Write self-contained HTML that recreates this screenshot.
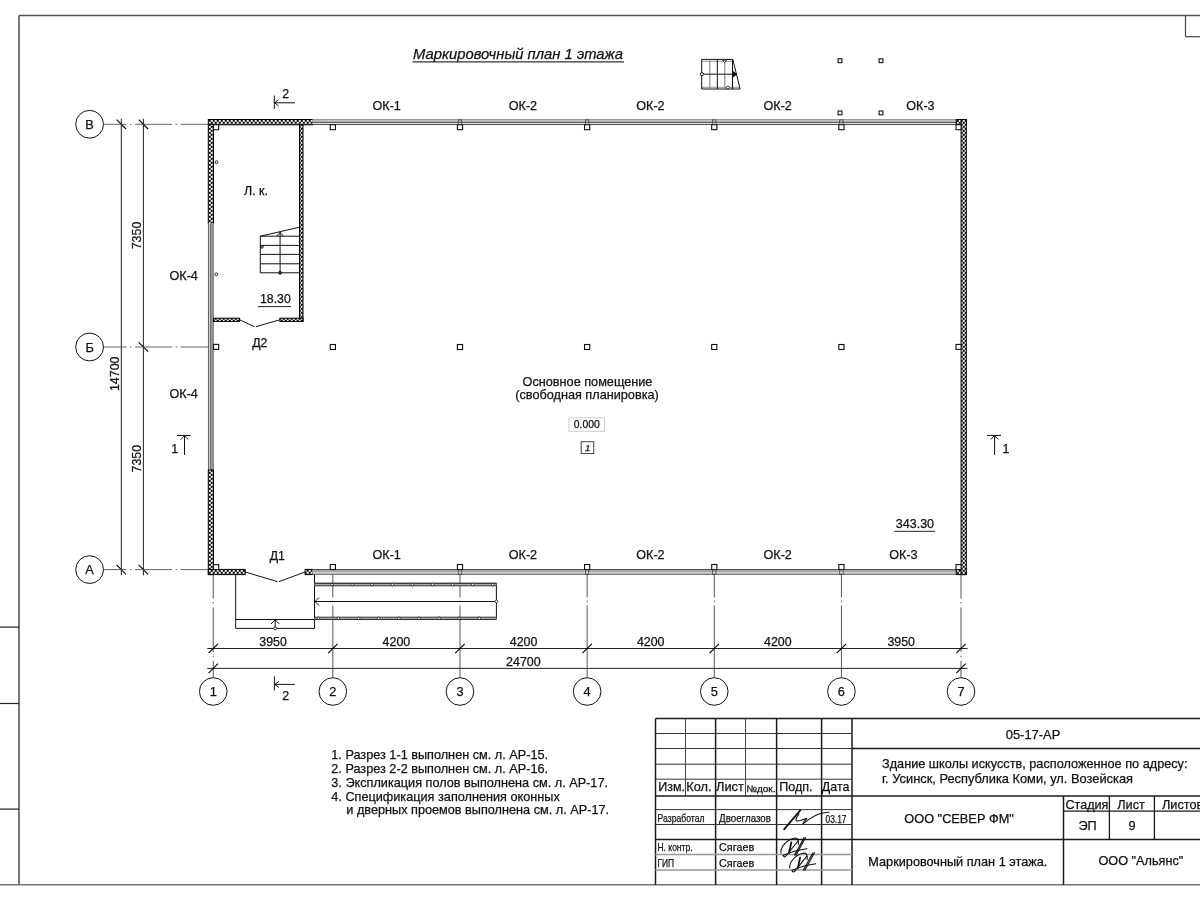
<!DOCTYPE html>
<html><head><meta charset="utf-8"><title>plan</title>
<style>
html,body{margin:0;padding:0;background:#fff;width:1200px;height:900px;overflow:hidden}
svg{display:block;will-change:transform}
text{font-family:"Liberation Sans",sans-serif;fill:#111;stroke:#111;stroke-width:0.25px}
</style></head><body>
<svg width="1200" height="900" viewBox="0 0 1200 900">
<defs>
<pattern id="h" x="0.75" y="3.8" width="4" height="4" patternUnits="userSpaceOnUse">
<rect width="4" height="4" fill="#fff"/>
<rect x="0" y="0" width="2" height="2" fill="#000"/>
<rect x="2" y="2" width="2" height="2" fill="#000"/>
</pattern>
</defs>
<line x1="19" y1="15.5" x2="19" y2="885" stroke="#555" stroke-width="1.6" />
<line x1="19" y1="15.5" x2="1200" y2="15.5" stroke="#555" stroke-width="1.6" />
<line x1="0" y1="884.8" x2="1200" y2="884.8" stroke="#777" stroke-width="1.6" />
<line x1="1185.5" y1="15.5" x2="1185.5" y2="36.7" stroke="#444" stroke-width="1.2" />
<line x1="1185.5" y1="36.7" x2="1200" y2="36.7" stroke="#444" stroke-width="1.2" />
<line x1="0" y1="627.1" x2="19" y2="627.1" stroke="#222" stroke-width="1.2" />
<line x1="0" y1="703.5" x2="19" y2="703.5" stroke="#222" stroke-width="1.2" />
<line x1="0" y1="809.1" x2="19" y2="809.1" stroke="#222" stroke-width="1.2" />
<text x="413" y="58.8" font-size="14.8" text-anchor="start" font-style="italic">Маркировочный план 1 этажа</text>
<line x1="412.5" y1="61.8" x2="624" y2="61.8" stroke="#333" stroke-width="1.2" />
<g fill="none" stroke="#111" stroke-width="1">
<path d="M701.7 61.4 H733.2 M701.7 87.4 H739.6" stroke="#aaa" stroke-width="1.4"/>
<path d="M701.7 59.4 H732.8 L740.1 89 H701.7 Z"/>
<path d="M709.8 59.4 V89" stroke="#777"/>
<path d="M717.35 59.4 V89" stroke="#111"/>
<path d="M724.85 59.4 V89" stroke="#777"/>
<path d="M732.5 59.4 V89" stroke="#111"/>
<path d="M701.7 74.2 H736.5"/>
</g>
<path d="M732.6 71 L737 74.2 L732.6 77.4 Z" fill="#111" stroke="#111" stroke-width="0.6"/>
<circle cx="701.9" cy="74.2" r="1.6" fill="#fff" stroke="#111" stroke-width="1"/>
<path d="M722.6 60.2 L726.6 60.2 L724.6 62.6 Z" fill="#fff" stroke="#111" stroke-width="0.8"/>
<circle cx="727.9" cy="87.6" r="1.4" fill="#fff" stroke="#111" stroke-width="0.8"/>
<rect x="838.10" y="58.80" width="3.80" height="3.80" fill="#fff" stroke="#111" stroke-width="1.1" />
<rect x="879.10" y="58.80" width="3.80" height="3.80" fill="#fff" stroke="#111" stroke-width="1.1" />
<rect x="838.10" y="111.00" width="3.80" height="3.80" fill="#fff" stroke="#111" stroke-width="1.1" />
<rect x="879.10" y="111.00" width="3.80" height="3.80" fill="#fff" stroke="#111" stroke-width="1.1" />
<rect x="208.30" y="119.50" width="104.20" height="5.30" fill="url(#h)" stroke="#000" stroke-width="1"/>
<rect x="312.5" y="119.5" width="643.7" height="5.299999999999997" fill="#fff"/>
<rect x="312.5" y="120.1" width="643.7" height="2.2" fill="#d4d4d4"/>
<line x1="312.5" y1="119.8" x2="956.2" y2="119.8" stroke="#777" stroke-width="1.1" />
<line x1="312.5" y1="122.3" x2="956.2" y2="122.3" stroke="#222" stroke-width="0.9" />
<line x1="312.5" y1="124.39999999999999" x2="956.2" y2="124.39999999999999" stroke="#222" stroke-width="0.9" />
<rect x="956.20" y="119.50" width="10.10" height="5.30" fill="url(#h)" stroke="#000" stroke-width="1"/>
<rect x="208.30" y="124.30" width="5.20" height="99.00" fill="url(#h)" stroke="#000" stroke-width="1"/>
<rect x="208.3" y="223.3" width="5.199999999999989" height="246.7" fill="#fff"/>
<rect x="208.70000000000002" y="223.3" width="4.399999999999989" height="246.7" fill="#d4d4d4"/>
<line x1="208.5" y1="223.3" x2="208.5" y2="470" stroke="#666" stroke-width="1.1" />
<line x1="210.9" y1="223.3" x2="210.9" y2="470" stroke="#222" stroke-width="0.9" />
<line x1="213.1" y1="223.3" x2="213.1" y2="470" stroke="#222" stroke-width="0.9" />
<rect x="208.30" y="470.00" width="5.20" height="104.60" fill="url(#h)" stroke="#000" stroke-width="1"/>
<rect x="208.30" y="569.40" width="36.90" height="5.20" fill="url(#h)" stroke="#000" stroke-width="1"/>
<rect x="305.10" y="569.40" width="7.40" height="5.20" fill="url(#h)" stroke="#000" stroke-width="1"/>
<rect x="312.5" y="569.4" width="643.7" height="5.2000000000000455" fill="#fff"/>
<line x1="312.5" y1="569.6" x2="956.2" y2="569.6" stroke="#222" stroke-width="0.9" />
<rect x="312.5" y="570.0" width="643.7" height="2.6" fill="#aaa"/>
<line x1="312.5" y1="574.2" x2="956.2" y2="574.2" stroke="#222" stroke-width="0.9" />
<rect x="956.20" y="569.40" width="10.10" height="5.20" fill="url(#h)" stroke="#000" stroke-width="1"/>
<rect x="961.10" y="119.50" width="5.20" height="455.10" fill="url(#h)" stroke="#000" stroke-width="1"/>
<rect x="299.50" y="124.80" width="3.50" height="196.60" fill="url(#h)" stroke="#000" stroke-width="1"/>
<rect x="213.50" y="318.20" width="26.10" height="3.20" fill="url(#h)" stroke="#000" stroke-width="1"/>
<rect x="279.90" y="318.20" width="23.10" height="3.20" fill="url(#h)" stroke="#000" stroke-width="1"/>
<path d="M239.6 319.8 L254.5 326.7 M255.9 326.7 L279.9 319.8" stroke="#111" stroke-width="1" fill="none"/>
<path d="M245.2 572 L277.5 581.6 M279 581.6 L305.1 572" stroke="#111" stroke-width="1" fill="none"/>
<rect x="330.23" y="124.70" width="5.20" height="5.00" fill="#fff" stroke="#111" stroke-width="1.1" />
<rect x="330.23" y="344.50" width="5.20" height="5.00" fill="#fff" stroke="#111" stroke-width="1.1" />
<rect x="330.23" y="564.50" width="5.20" height="5.00" fill="#fff" stroke="#111" stroke-width="1.1" />
<rect x="457.38" y="124.70" width="5.20" height="5.00" fill="#fff" stroke="#111" stroke-width="1.1" />
<rect x="457.38" y="344.50" width="5.20" height="5.00" fill="#fff" stroke="#111" stroke-width="1.1" />
<rect x="457.38" y="564.50" width="5.20" height="5.00" fill="#fff" stroke="#111" stroke-width="1.1" />
<rect x="458.28000000000003" y="119.9" width="3.4" height="4.6" fill="none" stroke="#333" stroke-width="0.7"/>
<rect x="458.28000000000003" y="569.6999999999999" width="3.4" height="4.6" fill="none" stroke="#333" stroke-width="0.7"/>
<rect x="584.53" y="124.70" width="5.20" height="5.00" fill="#fff" stroke="#111" stroke-width="1.1" />
<rect x="584.53" y="344.50" width="5.20" height="5.00" fill="#fff" stroke="#111" stroke-width="1.1" />
<rect x="584.53" y="564.50" width="5.20" height="5.00" fill="#fff" stroke="#111" stroke-width="1.1" />
<rect x="585.43" y="119.9" width="3.4" height="4.6" fill="none" stroke="#333" stroke-width="0.7"/>
<rect x="585.43" y="569.6999999999999" width="3.4" height="4.6" fill="none" stroke="#333" stroke-width="0.7"/>
<rect x="711.68" y="124.70" width="5.20" height="5.00" fill="#fff" stroke="#111" stroke-width="1.1" />
<rect x="711.68" y="344.50" width="5.20" height="5.00" fill="#fff" stroke="#111" stroke-width="1.1" />
<rect x="711.68" y="564.50" width="5.20" height="5.00" fill="#fff" stroke="#111" stroke-width="1.1" />
<rect x="712.5799999999999" y="119.9" width="3.4" height="4.6" fill="none" stroke="#333" stroke-width="0.7"/>
<rect x="712.5799999999999" y="569.6999999999999" width="3.4" height="4.6" fill="none" stroke="#333" stroke-width="0.7"/>
<rect x="838.83" y="124.70" width="5.20" height="5.00" fill="#fff" stroke="#111" stroke-width="1.1" />
<rect x="838.83" y="344.50" width="5.20" height="5.00" fill="#fff" stroke="#111" stroke-width="1.1" />
<rect x="838.83" y="564.50" width="5.20" height="5.00" fill="#fff" stroke="#111" stroke-width="1.1" />
<rect x="839.7299999999999" y="119.9" width="3.4" height="4.6" fill="none" stroke="#333" stroke-width="0.7"/>
<rect x="839.7299999999999" y="569.6999999999999" width="3.4" height="4.6" fill="none" stroke="#333" stroke-width="0.7"/>
<rect x="213.50" y="124.70" width="5.20" height="5.00" fill="#fff" stroke="#111" stroke-width="1.1" />
<rect x="213.50" y="344.40" width="5.20" height="5.00" fill="#fff" stroke="#111" stroke-width="1.1" />
<rect x="213.50" y="564.60" width="5.20" height="5.00" fill="#fff" stroke="#111" stroke-width="1.1" />
<rect x="956.00" y="124.70" width="5.10" height="5.00" fill="#fff" stroke="#111" stroke-width="1.1" />
<rect x="956.00" y="344.40" width="5.10" height="5.00" fill="#fff" stroke="#111" stroke-width="1.1" />
<rect x="956.00" y="564.60" width="5.10" height="5.00" fill="#fff" stroke="#111" stroke-width="1.1" />
<circle cx="216.5" cy="162.2" r="1.4" fill="#fff" stroke="#111" stroke-width="0.9"/>
<circle cx="216.3" cy="274.3" r="1.4" fill="#fff" stroke="#111" stroke-width="0.9"/>
<g fill="none" stroke="#111" stroke-width="1">
<path d="M260.3 236.2 H299.5"/>
<path d="M260.3 245.4 H299.5"/>
<path d="M260.3 254.4 H299.5"/>
<path d="M260.3 263.8 H299.5"/>
<path d="M260.3 272.8 H299.5"/>
<path d="M260.3 236.2 V272.8"/>
<path d="M260.3 236.2 L299.5 227.2"/>
<path d="M280.1 232 V272.8"/>
<path d="M276.8 236.2 L280.1 232.3 L283.4 236.2"/>
<circle cx="262" cy="247" r="1.2"/>
</g>
<circle cx="280.1" cy="272.8" r="1.5" fill="#333" stroke="#111" stroke-width="0.8"/>
<text x="244" y="194.8" font-size="12.4" text-anchor="start" >Л. к.</text>
<text x="260" y="303.4" font-size="12.3" text-anchor="start" >18.30</text>
<line x1="258" y1="306.6" x2="291" y2="306.6" stroke="#222" stroke-width="1" />
<text x="252.2" y="346.5" font-size="12.3" text-anchor="start" >Д2</text>
<text x="269.7" y="560" font-size="12.3" text-anchor="start" >Д1</text>
<text x="169.5" y="280.4" font-size="12.6" text-anchor="start" >ОК-4</text>
<text x="169.5" y="398" font-size="12.6" text-anchor="start" >ОК-4</text>
<text x="372.5" y="109.5" font-size="12.6" text-anchor="start" >ОК-1</text>
<text x="508.75" y="109.5" font-size="12.6" text-anchor="start" >ОК-2</text>
<text x="636.25" y="109.5" font-size="12.6" text-anchor="start" >ОК-2</text>
<text x="763.5" y="109.5" font-size="12.6" text-anchor="start" >ОК-2</text>
<text x="906.25" y="109.5" font-size="12.6" text-anchor="start" >ОК-3</text>
<text x="372.5" y="559.3" font-size="12.6" text-anchor="start" >ОК-1</text>
<text x="508.75" y="559.3" font-size="12.6" text-anchor="start" >ОК-2</text>
<text x="636.25" y="559.3" font-size="12.6" text-anchor="start" >ОК-2</text>
<text x="763.5" y="559.3" font-size="12.6" text-anchor="start" >ОК-2</text>
<text x="889.25" y="559.3" font-size="12.6" text-anchor="start" >ОК-3</text>
<text x="587.5" y="386" font-size="12.7" text-anchor="middle" >Основное помещение</text>
<text x="587" y="398.9" font-size="12.7" text-anchor="middle" >(свободная планировка)</text>
<rect x="569.00" y="417.80" width="35.50" height="13.50" fill="#fff" stroke="#ccc" stroke-width="1" />
<text x="586.8" y="428" font-size="10.4" text-anchor="middle" >0.000</text>
<rect x="581.20" y="441.70" width="12.50" height="11.80" fill="#fff" stroke="#444" stroke-width="1" />
<text x="587.6" y="451.2" font-size="9.6" text-anchor="middle" font-style="italic">1</text>
<text x="895.8" y="528" font-size="12.5" text-anchor="start" >343.30</text>
<line x1="894.5" y1="531.3" x2="935" y2="531.3" stroke="#222" stroke-width="1" />
<line x1="121.3" y1="118.7" x2="121.3" y2="575.3" stroke="#222" stroke-width="1" />
<line x1="143.4" y1="118.7" x2="143.4" y2="575.3" stroke="#222" stroke-width="1" />
<line x1="116.6" y1="119.6" x2="126.0" y2="129.0" stroke="#000" stroke-width="1.1" />
<line x1="138.70000000000002" y1="119.6" x2="148.1" y2="129.0" stroke="#000" stroke-width="1.1" />
<line x1="138.70000000000002" y1="342.3" x2="148.1" y2="351.7" stroke="#000" stroke-width="1.1" />
<line x1="116.6" y1="564.9" x2="126.0" y2="574.3000000000001" stroke="#000" stroke-width="1.1" />
<line x1="138.70000000000002" y1="564.9" x2="148.1" y2="574.3000000000001" stroke="#000" stroke-width="1.1" />
<text x="0" y="0" font-size="12.4" text-anchor="middle" transform="translate(141.1 235.5) rotate(-90)">7350</text>
<text x="0" y="0" font-size="12.4" text-anchor="middle" transform="translate(141.4 458.7) rotate(-90)">7350</text>
<text x="0" y="0" font-size="12.4" text-anchor="middle" transform="translate(118.7 373.8) rotate(-90)">14700</text>
<line x1="103.6" y1="124.3" x2="208.3" y2="124.3" stroke="#555" stroke-width="0.9" stroke-dasharray="37 3.5 1.5 3.5" stroke-dashoffset="14"/>
<circle cx="89.6" cy="124.3" r="13.9" fill="#fff" stroke="#111" stroke-width="1"/>
<text x="89.6" y="128.9" font-size="12.8" text-anchor="middle" >В</text>
<line x1="103.6" y1="347.0" x2="208.3" y2="347.0" stroke="#555" stroke-width="0.9" stroke-dasharray="37 3.5 1.5 3.5" stroke-dashoffset="14"/>
<circle cx="89.6" cy="347.0" r="13.9" fill="#fff" stroke="#111" stroke-width="1"/>
<text x="89.6" y="351.6" font-size="12.8" text-anchor="middle" >Б</text>
<line x1="103.6" y1="569.6" x2="208.3" y2="569.6" stroke="#555" stroke-width="0.9" stroke-dasharray="37 3.5 1.5 3.5" stroke-dashoffset="14"/>
<circle cx="89.6" cy="569.6" r="13.9" fill="#fff" stroke="#111" stroke-width="1"/>
<text x="89.6" y="574.2" font-size="12.8" text-anchor="middle" >А</text>
<line x1="207.3" y1="648.5" x2="967.5" y2="648.5" stroke="#222" stroke-width="1" />
<line x1="207.3" y1="668.4" x2="967.5" y2="668.4" stroke="#222" stroke-width="1" />
<path d="M213.25 574.6 V598.7 M213.25 602 V603.5 M213.25 607.5 V652 M213.25 655.7 V657.2 M213.25 661 V677.5" stroke="#444" stroke-width="0.9" fill="none"/>
<line x1="208.55" y1="653.2" x2="217.95" y2="643.8" stroke="#000" stroke-width="1.1" />
<circle cx="213.25" cy="691.5" r="13.8" fill="#fff" stroke="#111" stroke-width="1"/>
<text x="213.25" y="696" font-size="12.8" text-anchor="middle" >1</text>
<path d="M332.83 574.6 V597.5 M332.83 600.7 V602.2 M332.83 605.5 V677.5" stroke="#444" stroke-width="0.9" fill="none"/>
<line x1="328.13" y1="653.2" x2="337.53" y2="643.8" stroke="#000" stroke-width="1.1" />
<circle cx="332.83" cy="691.5" r="13.8" fill="#fff" stroke="#111" stroke-width="1"/>
<text x="332.83" y="696" font-size="12.8" text-anchor="middle" >2</text>
<path d="M459.98 574.6 V597.5 M459.98 600.7 V602.2 M459.98 605.5 V677.5" stroke="#444" stroke-width="0.9" fill="none"/>
<line x1="455.28000000000003" y1="653.2" x2="464.68" y2="643.8" stroke="#000" stroke-width="1.1" />
<circle cx="459.98" cy="691.5" r="13.8" fill="#fff" stroke="#111" stroke-width="1"/>
<text x="459.98" y="696" font-size="12.8" text-anchor="middle" >3</text>
<path d="M587.13 574.6 V597.5 M587.13 600.7 V602.2 M587.13 605.5 V677.5" stroke="#444" stroke-width="0.9" fill="none"/>
<line x1="582.43" y1="653.2" x2="591.83" y2="643.8" stroke="#000" stroke-width="1.1" />
<circle cx="587.13" cy="691.5" r="13.8" fill="#fff" stroke="#111" stroke-width="1"/>
<text x="587.13" y="696" font-size="12.8" text-anchor="middle" >4</text>
<path d="M714.28 574.6 V597.5 M714.28 600.7 V602.2 M714.28 605.5 V677.5" stroke="#444" stroke-width="0.9" fill="none"/>
<line x1="709.5799999999999" y1="653.2" x2="718.98" y2="643.8" stroke="#000" stroke-width="1.1" />
<circle cx="714.28" cy="691.5" r="13.8" fill="#fff" stroke="#111" stroke-width="1"/>
<text x="714.28" y="696" font-size="12.8" text-anchor="middle" >5</text>
<path d="M841.43 574.6 V597.5 M841.43 600.7 V602.2 M841.43 605.5 V677.5" stroke="#444" stroke-width="0.9" fill="none"/>
<line x1="836.7299999999999" y1="653.2" x2="846.13" y2="643.8" stroke="#000" stroke-width="1.1" />
<circle cx="841.43" cy="691.5" r="13.8" fill="#fff" stroke="#111" stroke-width="1"/>
<text x="841.43" y="696" font-size="12.8" text-anchor="middle" >6</text>
<path d="M961.0 574.6 V598.7 M961.0 602 V603.5 M961.0 607.5 V652 M961.0 655.7 V657.2 M961.0 661 V677.5" stroke="#444" stroke-width="0.9" fill="none"/>
<line x1="956.3" y1="653.2" x2="965.7" y2="643.8" stroke="#000" stroke-width="1.1" />
<circle cx="961.0" cy="691.5" r="13.8" fill="#fff" stroke="#111" stroke-width="1"/>
<text x="961.0" y="696" font-size="12.8" text-anchor="middle" >7</text>
<line x1="208.55" y1="673.1" x2="217.95" y2="663.6999999999999" stroke="#000" stroke-width="1.1" />
<line x1="956.3" y1="673.1" x2="965.7" y2="663.6999999999999" stroke="#000" stroke-width="1.1" />
<text x="273.03999999999996" y="645.8" font-size="12.4" text-anchor="middle" >3950</text>
<text x="396.405" y="645.8" font-size="12.4" text-anchor="middle" >4200</text>
<text x="523.5550000000001" y="645.8" font-size="12.4" text-anchor="middle" >4200</text>
<text x="650.7049999999999" y="645.8" font-size="12.4" text-anchor="middle" >4200</text>
<text x="777.855" y="645.8" font-size="12.4" text-anchor="middle" >4200</text>
<text x="901.2149999999999" y="645.8" font-size="12.4" text-anchor="middle" >3950</text>
<text x="506" y="665.8" font-size="12.5" text-anchor="start" >24700</text>
<g fill="none" stroke="#111" stroke-width="1">
<path d="M235.7 574.6 V628.4 H314.5 V574.6"/>
<path d="M235.7 619.5 H314.5"/>
<path d="M275.2 628.4 V620"/>
<path d="M271 624 L275.2 619.8 L279.4 624"/>
<path d="M314.5 583.3 H496.4 V619 H314.5"/>
<path d="M314.5 601.5 H496.4"/>
<path d="M319 597.5 L315 601.5 L319 605.5"/>
</g>
<rect x="314.5" y="583.4" width="181.9" height="2.3" fill="#aaa"/>
<line x1="314.5" y1="583.3" x2="496.4" y2="583.3" stroke="#222" stroke-width="0.9" />
<line x1="314.5" y1="585.8" x2="496.4" y2="585.8" stroke="#222" stroke-width="0.9" />
<rect x="314.5" y="617.2" width="181.9" height="2.3" fill="#aaa"/>
<line x1="314.5" y1="617.2" x2="496.4" y2="617.2" stroke="#222" stroke-width="0.9" />
<line x1="314.5" y1="619.5" x2="496.4" y2="619.5" stroke="#222" stroke-width="0.9" />
<circle cx="332.0" cy="584.5" r="1.3" fill="#fff" stroke="#111" stroke-width="0.8"/>
<circle cx="352.1" cy="584.5" r="1.3" fill="#fff" stroke="#111" stroke-width="0.8"/>
<circle cx="372.2" cy="584.5" r="1.3" fill="#fff" stroke="#111" stroke-width="0.8"/>
<circle cx="392.3" cy="584.5" r="1.3" fill="#fff" stroke="#111" stroke-width="0.8"/>
<circle cx="412.4" cy="584.5" r="1.3" fill="#fff" stroke="#111" stroke-width="0.8"/>
<circle cx="432.5" cy="584.5" r="1.3" fill="#fff" stroke="#111" stroke-width="0.8"/>
<circle cx="452.6" cy="584.5" r="1.3" fill="#fff" stroke="#111" stroke-width="0.8"/>
<circle cx="472.7" cy="584.5" r="1.3" fill="#fff" stroke="#111" stroke-width="0.8"/>
<circle cx="492.8" cy="584.5" r="1.3" fill="#fff" stroke="#111" stroke-width="0.8"/>
<circle cx="318.4" cy="618.3" r="1.3" fill="#fff" stroke="#111" stroke-width="0.8"/>
<circle cx="338.5" cy="618.3" r="1.3" fill="#fff" stroke="#111" stroke-width="0.8"/>
<circle cx="358.6" cy="618.3" r="1.3" fill="#fff" stroke="#111" stroke-width="0.8"/>
<circle cx="378.7" cy="618.3" r="1.3" fill="#fff" stroke="#111" stroke-width="0.8"/>
<circle cx="398.8" cy="618.3" r="1.3" fill="#fff" stroke="#111" stroke-width="0.8"/>
<circle cx="418.9" cy="618.3" r="1.3" fill="#fff" stroke="#111" stroke-width="0.8"/>
<circle cx="439.0" cy="618.3" r="1.3" fill="#fff" stroke="#111" stroke-width="0.8"/>
<circle cx="459.1" cy="618.3" r="1.3" fill="#fff" stroke="#111" stroke-width="0.8"/>
<circle cx="479.2" cy="618.3" r="1.3" fill="#fff" stroke="#111" stroke-width="0.8"/>
<circle cx="496.4" cy="601.5" r="1.4" fill="#fff" stroke="#111" stroke-width="0.8"/>
<circle cx="275.2" cy="628.4" r="1.4" fill="#fff" stroke="#111" stroke-width="0.9"/>
<g fill="none" stroke="#111" stroke-width="1">
<path d="M274.3 95.5 V109 M274.3 102.8 H295 M278.6 99.7 L274.6 102.8 L278.6 105.9"/>
<path d="M274.4 676.4 V690.4 M274.4 684.4 H294.8 M279 681.3 L274.8 684.4 L279 687.5"/>
<path d="M177 435.5 H190.5 M184.5 435.5 V455 M180.8 439.5 L184.5 435.8 L188.2 439.5"/>
<path d="M987 435.4 H1001 M994.6 435.4 V455 M990.9 439.4 L994.6 435.7 L998.3 439.4"/>
</g>
<text x="285.8" y="98" font-size="12.4" text-anchor="middle" >2</text>
<text x="285.8" y="700" font-size="12.4" text-anchor="middle" >2</text>
<text x="174.6" y="453" font-size="12.4" text-anchor="middle" >1</text>
<text x="1006" y="453" font-size="12.4" text-anchor="middle" >1</text>
<text x="331.3" y="759.3" font-size="12.7" text-anchor="start" >1. Разрез 1-1 выполнен см. л. АР-15.</text>
<text x="331.3" y="773" font-size="12.7" text-anchor="start" >2. Разрез 2-2 выполнен см. л. АР-16.</text>
<text x="331.3" y="786.8" font-size="12.7" text-anchor="start" >3. Экспликация полов выполнена см. л. АР-17.</text>
<text x="331.3" y="800.5" font-size="12.7" text-anchor="start" >4. Спецификация заполнения оконных</text>
<text x="346.3" y="813.8" font-size="12.7" text-anchor="start" >и дверных проемов выполнена см. л. АР-17.</text>
<line x1="655.5" y1="718.5" x2="1200" y2="718.5" stroke="#1a1a1a" stroke-width="1.5" />
<line x1="655.5" y1="718.5" x2="655.5" y2="885" stroke="#1a1a1a" stroke-width="1.5" />
<line x1="715.6" y1="718.5" x2="715.6" y2="885" stroke="#1a1a1a" stroke-width="1.5" />
<line x1="776.6" y1="718.5" x2="776.6" y2="885" stroke="#1a1a1a" stroke-width="1.5" />
<line x1="821.6" y1="718.5" x2="821.6" y2="885" stroke="#1a1a1a" stroke-width="1.5" />
<line x1="852" y1="718.5" x2="852" y2="885" stroke="#1a1a1a" stroke-width="1.5" />
<line x1="655.5" y1="733.5" x2="852" y2="733.5" stroke="#333" stroke-width="1.0" />
<line x1="655.5" y1="748.5" x2="852" y2="748.5" stroke="#333" stroke-width="1.0" />
<line x1="655.5" y1="764.2" x2="852" y2="764.2" stroke="#333" stroke-width="1.0" />
<line x1="655.5" y1="779.2" x2="852" y2="779.2" stroke="#333" stroke-width="1.0" />
<line x1="685.5" y1="718.5" x2="685.5" y2="796" stroke="#444" stroke-width="1.0" />
<line x1="745.5" y1="718.5" x2="745.5" y2="796" stroke="#444" stroke-width="1.0" />
<line x1="655.5" y1="796.1" x2="1200" y2="796.1" stroke="#1a1a1a" stroke-width="1.5" />
<line x1="655.5" y1="809.6" x2="852" y2="809.6" stroke="#333" stroke-width="1.0" />
<line x1="655.5" y1="824.5" x2="852" y2="824.5" stroke="#333" stroke-width="1.0" />
<line x1="655.5" y1="854.5" x2="852" y2="854.5" stroke="#999" stroke-width="1.5" />
<line x1="655.5" y1="869.9" x2="852" y2="869.9" stroke="#999" stroke-width="1.5" />
<line x1="655.5" y1="839.4" x2="1200" y2="839.4" stroke="#1a1a1a" stroke-width="1.5" />
<line x1="852" y1="748.4" x2="1200" y2="748.4" stroke="#1a1a1a" stroke-width="1.5" />
<line x1="1063.5" y1="796.1" x2="1063.5" y2="885" stroke="#1a1a1a" stroke-width="1.5" />
<line x1="1109.4" y1="796.1" x2="1109.4" y2="839.4" stroke="#1a1a1a" stroke-width="1.3" />
<line x1="1154.4" y1="796.1" x2="1154.4" y2="839.4" stroke="#1a1a1a" stroke-width="1.3" />
<line x1="1063.5" y1="811.1" x2="1200" y2="811.1" stroke="#1a1a1a" stroke-width="1.3" />
<text x="658.3" y="790.5" font-size="12.9" text-anchor="start" textLength="26.8" lengthAdjust="spacingAndGlyphs" >Изм.</text>
<text x="686.3" y="790.5" font-size="12.9" text-anchor="start" textLength="25.3" lengthAdjust="spacingAndGlyphs" >Кол.</text>
<text x="716.0" y="790.5" font-size="12.9" text-anchor="start" textLength="27.8" lengthAdjust="spacingAndGlyphs" >Лист</text>
<text x="746.3" y="791.5" font-size="9.6" text-anchor="start" textLength="29.2" lengthAdjust="spacingAndGlyphs" >№док.</text>
<text x="779.3" y="790.8" font-size="12.9" text-anchor="start" textLength="33.2" lengthAdjust="spacingAndGlyphs" >Подп.</text>
<text x="821.8" y="790.8" font-size="12.9" text-anchor="start" textLength="27.6" lengthAdjust="spacingAndGlyphs" >Дата</text>
<text x="657.5" y="821.7" font-size="10.6" text-anchor="start" textLength="47" lengthAdjust="spacingAndGlyphs" >Разработал</text>
<text x="719.0" y="821.7" font-size="10.6" text-anchor="start" textLength="52" lengthAdjust="spacingAndGlyphs" >Двоеглазов</text>
<text x="825.5" y="822.5" font-size="10.2" text-anchor="start" textLength="21" lengthAdjust="spacingAndGlyphs" >03.17</text>
<text x="657.5" y="851.1" font-size="10.6" text-anchor="start" textLength="35" lengthAdjust="spacingAndGlyphs" >Н. контр.</text>
<text x="719.0" y="851.1" font-size="10.6" text-anchor="start" textLength="35.2" lengthAdjust="spacingAndGlyphs" >Сягаев</text>
<text x="657.5" y="866.7" font-size="10.6" text-anchor="start" textLength="16.6" lengthAdjust="spacingAndGlyphs" >ГИП</text>
<text x="719.0" y="866.7" font-size="10.6" text-anchor="start" textLength="35.2" lengthAdjust="spacingAndGlyphs" >Сягаев</text>
<text x="1033" y="738.5" font-size="12.9" text-anchor="middle"  >05-17-АР</text>
<text x="882" y="768" font-size="12.7" text-anchor="start" textLength="305.5" lengthAdjust="spacingAndGlyphs" >Здание школы искусств, расположенное по адресу:</text>
<text x="882" y="783" font-size="12.7" text-anchor="start" textLength="251" lengthAdjust="spacingAndGlyphs" >г. Усинск, Республика Коми, ул. Возейская</text>
<text x="904.3" y="823" font-size="12.7" text-anchor="start" textLength="109.5" lengthAdjust="spacingAndGlyphs" >ООО "СЕВЕР ФМ"</text>
<text x="1065.4" y="809" font-size="12.7" text-anchor="start" textLength="43" lengthAdjust="spacingAndGlyphs" >Стадия</text>
<text x="1117.3" y="809" font-size="12.7" text-anchor="start" textLength="27.5" lengthAdjust="spacingAndGlyphs" >Лист</text>
<text x="1162" y="809" font-size="12.7" text-anchor="start"  >Листов</text>
<text x="1087.5" y="830" font-size="12.7" text-anchor="middle"  >ЭП</text>
<text x="1132" y="830" font-size="12.7" text-anchor="middle"  >9</text>
<text x="868.3" y="866" font-size="12.7" text-anchor="start" textLength="179" lengthAdjust="spacingAndGlyphs" >Маркировочный план 1 этажа.</text>
<text x="1098.4" y="864.5" font-size="12.7" text-anchor="start" textLength="85" lengthAdjust="spacingAndGlyphs" >ООО "Альянс"</text>
<g fill="none" stroke="#111" stroke-width="1.1" stroke-linecap="round" stroke-linejoin="round">
<path d="M784.1 829.3 L800.4 810.2" stroke-width="1.8"/>
<path d="M799 814 C796 818 795 821 797 821 C800 821 804 819 807 818.6 C805 820 803 822.5 802.7 824 C808 820 814 815 821 813.5 C824 812.8 827 812.3 829 812.3"/>
<g transform="translate(0 0)"><path d="M781 853 C780 848 786 840 794 838.2 C797 837.5 799 839 798.4 844.5"/><path d="M791.3 842.5 L789 853" stroke-width="1.8"/><path d="M805.6 837.6 L796 855.3 M804 837.8 L794.6 855"/><path d="M783 855.5 C790 852 798 850 807 848.7"/><path d="M798 841 C794 846 790 851 786 856 C785 857.5 783.5 857 783.5 855.5"/></g>
<g transform="translate(8.8 15.1)"><path d="M781 853 C780 848 786 840 794 838.2 C797 837.5 799 839 798.4 844.5"/><path d="M791.3 842.5 L789 853" stroke-width="1.8"/><path d="M805.6 837.6 L796 855.3 M804 837.8 L794.6 855"/><path d="M783 855.5 C790 852 798 850 807 848.7"/><path d="M798 841 C794 846 790 851 786 856 C785 857.5 783.5 857 783.5 855.5"/></g>
</g>
</svg></body></html>
